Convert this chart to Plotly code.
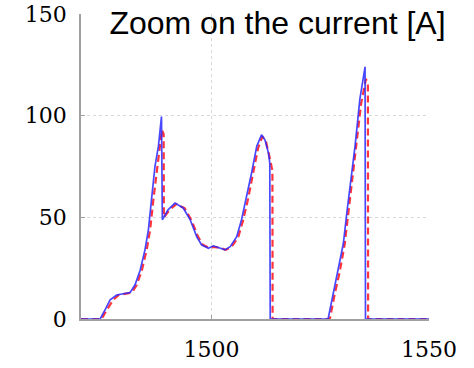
import plotly.graph_objects as go

# Blue (solid) series
blue_x = [1470, 1474.4, 1475.5, 1476.7, 1478.2, 1480, 1481.3, 1482.4, 1483.6, 1484.7, 1485.5, 1486.2,
          1487, 1487.8, 1488.5, 1488.7, 1490, 1491.6, 1493.5, 1495.1, 1496.6, 1497.7, 1499.3, 1500.4,
          1501.8, 1503.1, 1504.3, 1505.8, 1506.9, 1508.1, 1509.2, 1510.4, 1511.5, 1512.3, 1513.1,
          1513.4, 1513.5, 1526.8, 1528, 1529.2, 1530.3, 1531.1, 1532.2, 1533, 1534.1, 1535.3,
          1535.4, 1550]
blue_y = [0, 0, 4.4, 9.4, 11.8, 12.5, 13, 16.7, 24, 34, 44, 58.6,
          75, 85, 99.6, 48.8, 53.7, 57, 54.6, 48.8, 40.5, 36.5, 34.8, 36,
          35, 34, 35.6, 40.5, 48.8, 60, 71.7, 84.9, 90.6, 88, 81.6,
          76.7, 0, 0, 12.6, 24, 37, 52, 70, 85, 108, 124,
          0, 0]

# Red (dashed) series
red_x = [1470, 1474.75, 1475.9, 1477.4, 1478.7, 1480.4, 1481.7, 1482.8, 1484.0, 1485.1, 1485.9,
         1486.6, 1487.4, 1488.1, 1488.6, 1489.0, 1489.05, 1490.3, 1491.9, 1493.8, 1495.4, 1496.9,
         1498.0, 1499.5, 1500.6, 1502.0, 1503.3, 1504.6, 1506.1, 1507.2, 1508.4, 1509.5, 1510.7,
         1511.7, 1512.5, 1513.3, 1514.0, 1514.05, 1527.2, 1528.3, 1529.5, 1530.6, 1531.4, 1532.5,
         1533.3, 1534.4, 1535.5, 1535.95, 1536.0, 1550]
red_y = [0, 0, 4.4, 9.4, 11.8, 12.5, 13, 16.7, 24, 34, 44,
         58, 73, 84, 93, 91, 50, 53.5, 56.5, 54.5, 48.5, 40.5,
         36.5, 35, 35.5, 35, 34, 35.5, 40, 48, 59, 71, 84,
         89.8, 87.5, 80, 73, 0, 0, 12, 23.5, 36.5, 51, 69,
         84, 106, 118, 116, 0, 0]

x_ticks = [1500, 1550]
y_ticks = [0, 50, 100, 150]

fig = go.Figure()
fig.add_trace(go.Scatter(x=red_x, y=red_y, mode="lines",
                         line=dict(color="rgba(255,30,40,0.9)", width=2.2, dash="7px,4px")))
fig.add_trace(go.Scatter(x=blue_x, y=blue_y, mode="lines",
                         line=dict(color="rgba(40,40,255,0.85)", width=1.7)))

W, H = 474, 368
axis_font = dict(family="DejaVu Serif", size=22, color="black")
fig.update_layout(
    width=W, height=H,
    margin=dict(l=81, r=45, t=14, b=49, autoexpand=False),
    plot_bgcolor="white", paper_bgcolor="white",
    showlegend=False,
    title=dict(text="Zoom on the current [A]", x=277.5 / W, xanchor="center",
               xref="container", yref="container", y=1 - 11.5 / H, yanchor="top",
               automargin=False,
               font=dict(family="Liberation Sans", size=32, color="black")),
    xaxis=dict(range=[1470, 1550], tickvals=x_ticks, ticktext=[str(v) for v in x_ticks],
               showgrid=True, gridcolor="#d8d8d8", griddash="dot", gridwidth=1,
               showline=True, linecolor="#a0a0a0", linewidth=1.5,
               ticks="inside", ticklen=4, tickcolor="#a0a0a0", automargin=False,
               tickfont=axis_font, zeroline=False, ticklabelstandoff=10),
    yaxis=dict(range=[0, 150], tickvals=y_ticks, ticktext=[str(v) for v in y_ticks],
               showgrid=True, gridcolor="#d8d8d8", griddash="dot", gridwidth=1,
               showline=True, linecolor="#a0a0a0", linewidth=1.5,
               ticks="inside", ticklen=4, tickcolor="#a0a0a0", automargin=False,
               tickfont=axis_font, zeroline=False, ticklabelstandoff=8),
)

fig.write_html("out.html", config={"displayModeBar": False},
               post_script="document.body.style.margin='0';document.body.style.padding='0';")
